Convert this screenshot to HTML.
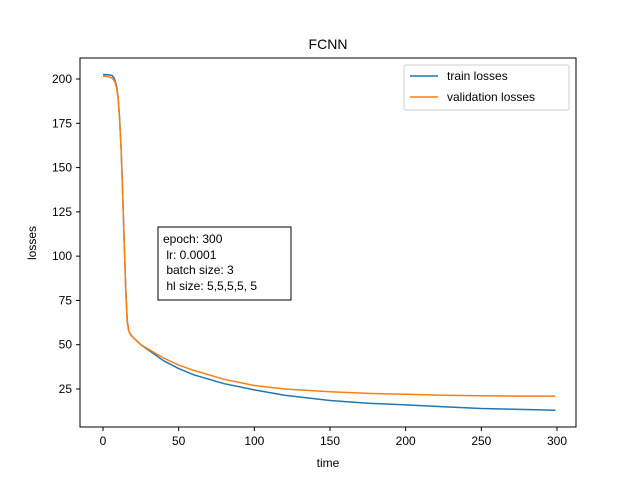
<!DOCTYPE html>
<html><head><meta charset="utf-8"><style>body{margin:0;background:#fff}svg{display:block;font-family:"Liberation Sans","DejaVu Sans",sans-serif}</style></head>
<body>
<svg width="640" height="480" viewBox="0 0 640 480">
<rect width="640" height="480" fill="#fff"/>
<text x="328" y="49" text-anchor="middle" font-size="14">FCNN</text>
<g id="plot"></g>
<rect x="80" y="58" width="496" height="369" fill="none" stroke="#000" stroke-width="1"/>
<text x="328" y="467" text-anchor="middle" font-size="12">time</text>
<text x="36" y="243" text-anchor="middle" font-size="12" transform="rotate(-90 36 243)">losses</text>
<g>
<rect x="158" y="227" width="133" height="73" fill="#fff" stroke="#000"/>
<text x="163" y="243" font-size="12">epoch: 300</text>
<text x="163" y="259" font-size="12" xml:space="preserve"> lr: 0.0001</text>
<text x="163" y="274" font-size="12" xml:space="preserve"> batch size: 3</text>
<text x="163" y="290" font-size="12" xml:space="preserve"> hl size: 5,5,5,5, 5</text>
</g>
<g>
<rect x="404" y="65" width="165" height="45" rx="2" fill="#fff" stroke="#ccc"/>
<line x1="410" y1="76" x2="438" y2="76" stroke="#1f77b4" stroke-width="1.5"/>
<text x="447" y="80" font-size="12">train losses</text>
<line x1="410" y1="97" x2="438" y2="97" stroke="#ff7f0e" stroke-width="1.5"/>
<text x="447" y="101" font-size="12">validation losses</text>
</g>
</svg>
<script>
const epochs=[0,2,4,6,7,8,9,10,11,12,13,14,15,16,17,18,20,25,30,40,50,60,80,100,120,150,175,200,225,250,275,299];
const trainLoss=[202.5,202.5,202.3,202,201,199,196,190,178,160,135,108,82,64,58,56,54,50,47,41,36.5,33,28,24.5,21.5,18.5,17,16,15,14,13.5,13];
const valLoss=[201.5,201.5,201.2,200.5,199.5,198,195,189,177,159,134,107,81,63,58,56,54,50,47.5,42.5,38.5,35.5,30.5,27,25,23.5,22.5,22,21.5,21.2,21,21];
const xTicks=[0,50,100,150,200,250,300];
const yTicks=[25,50,75,100,125,150,175,200];
const xs=v=>103+v*(454/300);
const ys=v=>389-(v-25)*(310/175);
const NS="http://www.w3.org/2000/svg";
const g=document.getElementById('plot');
function mk(t,a){const e=document.createElementNS(NS,t);for(const k in a)e.setAttribute(k,a[k]);g.appendChild(e);return e;}
xTicks.forEach(t=>{
 const l=mk('line',{x1:xs(t),x2:xs(t),y1:427,y2:431,stroke:'#000'});
 
 
 const tx=mk('text',{x:xs(t),y:445,'text-anchor':'middle','font-size':'12'});tx.textContent=t;
 
 
});
yTicks.forEach(t=>{
 const l=mk('line',{x1:76,x2:80,y1:ys(t),y2:ys(t),stroke:'#000'});
 
 
 const tx=mk('text',{x:72,y:ys(t)+4,'text-anchor':'end','font-size':'12'});tx.textContent=t;
 
 
});
function line(vals,color,name){
 const d=vals.map((v,i)=>(i?'L':'M')+xs(epochs[i]).toFixed(1)+' '+ys(v).toFixed(1)).join(' ');
 const p=mk('path',{d:d,fill:'none',stroke:color,'stroke-width':1.5,'stroke-linejoin':'round'});
 
 
}
line(trainLoss,'#1f77b4','train-loss-line');
line(valLoss,'#ff7f0e','validation-loss-line');
</script>
</body></html>
